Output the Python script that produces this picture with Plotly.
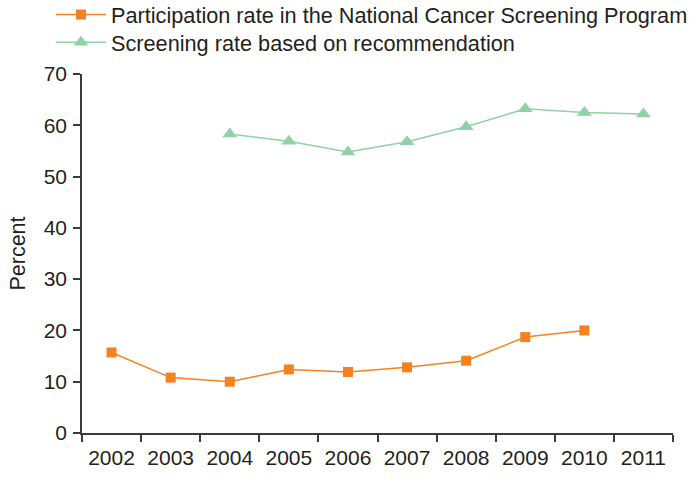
import plotly.graph_objects as go

years = ["2002", "2003", "2004", "2005", "2006", "2007", "2008", "2009", "2010", "2011"]
participation = [15.7, 10.8, 10.0, 12.4, 11.9, 12.8, 14.1, 18.7, 20.0, None]
recommendation = [None, None, 58.3, 56.9, 54.8, 56.8, 59.7, 63.2, 62.5, 62.2]
y_ticks = [0, 10, 20, 30, 40, 50, 60, 70]

FONT = "Liberation Sans, Arial, Helvetica, sans-serif"
TXT = "#231f20"
ORANGE = "#f5821f"
GREEN = "#90d1a8"
AX = "#3c3c3c"

W, H = 697, 488
L, R, T = 82, 24, 74
PW = W - L - R
PH = 358.7
B = H - T - PH

fig = go.Figure()
fig.add_trace(go.Scatter(
    x=years, y=participation, mode="lines+markers",
    name="Participation rate in the National Cancer Screening Program",
    line=dict(color=ORANGE, width=1.5),
    marker=dict(symbol="square", size=10, color=ORANGE),
    legend="legend",
))
fig.add_trace(go.Scatter(
    x=years, y=recommendation, mode="lines+markers",
    name="Screening rate based on recommendation",
    line=dict(color=GREEN, width=1.5),
    marker=dict(symbol="triangle-up", size=13, color=GREEN),
    legend="legend2",
))

leg_common = dict(
    xanchor="left", yanchor="top",
    font=dict(family=FONT, size=21.7, color=TXT),
    itemwidth=50, bgcolor="rgba(0,0,0,0)",
)
fig.update_layout(
    width=W, height=H,
    margin=dict(l=L, r=R, t=T, b=B, autoexpand=False),
    paper_bgcolor="white", plot_bgcolor="white",
    font=dict(family=FONT, size=21, color=TXT),
    showlegend=True,
    legend=dict(x=(51 - L) / PW, y=(T + PH + 6) / PH, **leg_common),
    legend2=dict(x=(51 - L) / PW, y=(T + PH - 21.7) / PH, **leg_common),
)
fig.update_xaxes(
    type="category", categoryorder="array", categoryarray=years,
    range=[-0.5, 9.5], tickson="boundaries", ticks="outside", ticklen=7,
    tickcolor=AX, tickwidth=1.5, automargin=False,
    showline=True, linecolor=AX, linewidth=1.5,
    showgrid=False, zeroline=False, ticklabelstandoff=5,
    tickfont=dict(family=FONT, size=21, color=TXT),
)
fig.update_yaxes(
    range=[0, 70], tickvals=y_ticks, ticks="outside", ticklen=7,
    tickcolor=AX, tickwidth=1.5, automargin=False,
    showline=True, linecolor=AX, linewidth=1.5,
    showgrid=False, zeroline=False, ticklabelstandoff=2,
    title=dict(text="Percent", font=dict(family=FONT, size=21.5, color=TXT), standoff=12),
    tickfont=dict(family=FONT, size=21, color=TXT),
)

fig.write_html(
    "out.html",
    config={"displayModeBar": False},
    post_script="document.body.style.margin='0';",
)
